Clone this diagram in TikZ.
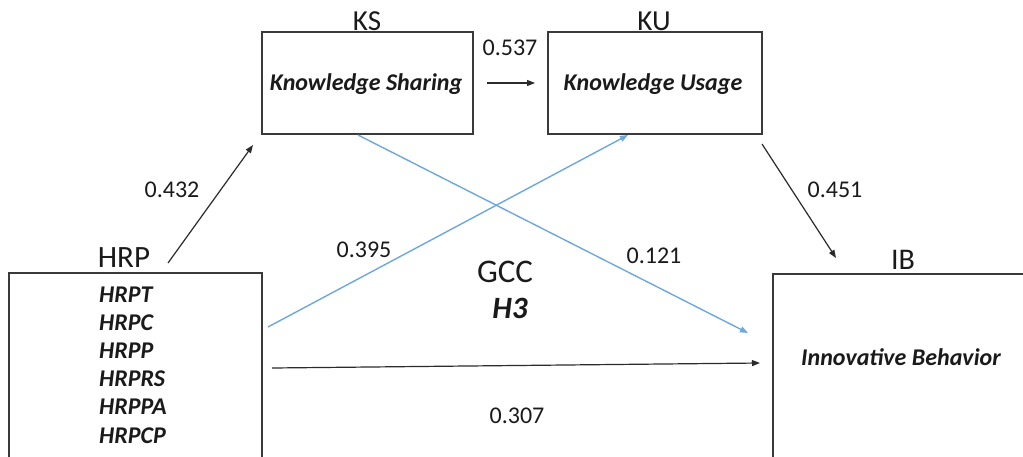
\documentclass[tikz,border=0pt]{standalone}
\usepackage{fontspec}
\setmainfont{Carlito}
\usetikzlibrary{arrows.meta}
\definecolor{boxline}{HTML}{3A3A3A}
\definecolor{arrline}{HTML}{2B2B2B}
\definecolor{blueline}{HTML}{6FA8DC}
\definecolor{txt}{HTML}{1A1A1A}
\tikzset{
  box/.style={draw=boxline, line width=1.6pt, inner sep=0pt, fill=white},
  lbl/.style={text=txt, inner sep=0pt, anchor=base, font=\fontsize{29}{32}\selectfont},
  num/.style={text=txt, inner sep=0pt, anchor=base, font=\fontsize{24}{28}\selectfont},
  inner/.style={text=txt, inner sep=0pt, font=\fontsize{24}{28}\selectfont\bfseries\itshape},
  item/.style={text=txt, inner sep=0pt, anchor=base west, font=\fontsize{24}{28}\selectfont\bfseries\itshape},
  blk/.style={draw=arrline, line width=1.2pt, -{Triangle[length=8pt,width=6pt]}},
  blu/.style={draw=blueline, line width=1.4pt, -{Triangle[length=8pt,width=6pt]}},
}
\begin{document}
\begin{tikzpicture}[x=1pt,y=-1pt]
\useasboundingbox (0,0) rectangle (1023,456);
\clip (0,0) rectangle (1023,456);
\fill[white] (0,0) rectangle (1023,456);
% boxes
\node[box, minimum width=211pt, minimum height=102pt] (ks) at (367.5,83) {};
\node[box, minimum width=214pt, minimum height=102pt] (ku) at (655,83) {};
\node[box, minimum width=253pt, minimum height=200pt] (hrp) at (135.5,373) {};
\node[box, minimum width=270pt, minimum height=200pt] (ib) at (908,374) {};
% texts in boxes
\node[inner, anchor=base] (kst) at (366,90) {Knowledge Sharing};
\node[inner, anchor=base] (kut) at (653,90) {Knowledge Usage};
\node[inner, anchor=base] (ibt) at (901,365) {Innovative Behavior};
\node[item] (i1) at (99,302) {HRPT};
\node[item] (i2) at (99,330.2) {HRPC};
\node[item] (i3) at (99,358.4) {HRPP};
\node[item] (i4) at (99,386.6) {HRPRS};
\node[item] (i5) at (99,414.8) {HRPPA};
\node[item] (i6) at (99,443) {HRPCP};
% labels
\node[lbl] (ksl) at (367,30) {KS};
\node[lbl] (kul) at (654,30) {KU};
\node[lbl, font=\fontsize{31}{34}\selectfont] (hrpl) at (124,267) {HRP};
\node[lbl, font=\fontsize{30}{34}\selectfont] (ibl) at (903,269) {IB};
\node[lbl, font=\fontsize{33}{36}\selectfont] (gcc) at (505,282) {GCC};
\node[lbl, font=\fontsize{31}{34}\selectfont\bfseries\itshape] (h3) at (510,318) {H3};
% numbers
\node[num] (n537) at (510,55) {0.537};
\node[num] (n432) at (172,197) {0.432};
\node[num] (n451) at (835,197) {0.451};
\node[num] (n395) at (364,257) {0.395};
\node[num] (n121) at (654,263) {0.121};
\node[num] (n307) at (517,423) {0.307};
% connector end points
\coordinate (a1s) at (168,263);
\coordinate (a1e) at (253,145);
\coordinate (a2s) at (487,83);
\coordinate (a2e) at (535,83);
\coordinate (a3s) at (762,144);
\coordinate (a3e) at (836,258);
\coordinate (a4s) at (272,368);
\coordinate (a4e) at (760,363);
\coordinate (b1s) at (268,327);
\coordinate (b1e) at (628,135);
\coordinate (b2s) at (358,135);
\coordinate (b2e) at (748,333);
% connectors
\draw[blu] (b1s) -- (b1e);
\draw[blu] (b2s) -- (b2e);
\draw[blk] (a1s) -- (a1e);
\draw[blk] (a2s) -- (a2e);
\draw[blk] (a3s) -- (a3e);
\draw[blk] (a4s) -- (a4e);
\end{tikzpicture}
\end{document}
